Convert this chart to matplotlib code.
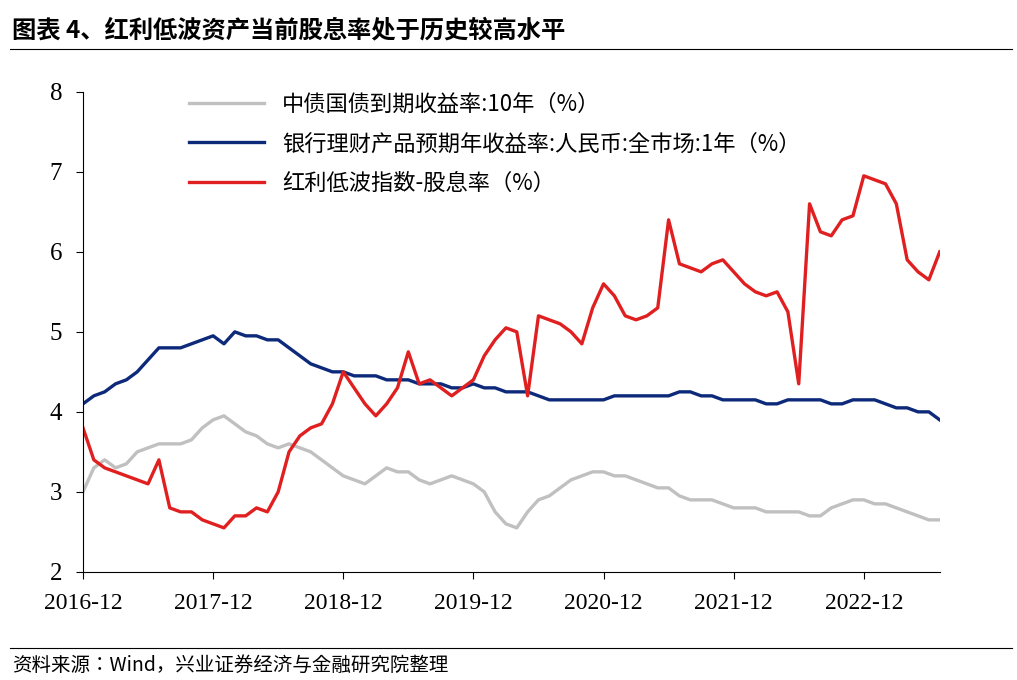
import numpy as np
import matplotlib.pyplot as plt
from matplotlib.lines import Line2D
from matplotlib import font_manager

names = {f.name for f in font_manager.fontManager.ttflist}
CJK = [n for n in ["Noto Sans CJK SC", "Noto Sans CJK JP", "Noto Sans CJK TC", "Noto Sans CJK KR"] if n in names] or ["DejaVu Sans"]
CJK = CJK[0]
NUM = "Liberation Serif"

# monthly points, index 0 = 2016-12
tick_labels = ["2016-12", "2017-12", "2018-12", "2019-12", "2020-12", "2021-12", "2022-12"]

gov_10y = [3.0, 3.3, 3.4, 3.3, 3.35, 3.5, 3.55, 3.6, 3.6, 3.6, 3.65, 3.8, 3.9, 3.95, 3.85, 3.75, 3.7, 3.6, 3.55, 3.6, 3.55, 3.5, 3.4, 3.3, 3.2,
          3.15, 3.1, 3.2, 3.3, 3.25, 3.25, 3.15, 3.1, 3.15, 3.2, 3.15, 3.1, 3.0, 2.75, 2.6, 2.55, 2.75, 2.9, 2.95, 3.05, 3.15, 3.2, 3.25, 3.25,
          3.2, 3.2, 3.15, 3.1, 3.05, 3.05, 2.95, 2.9, 2.9, 2.9, 2.85, 2.8, 2.8, 2.8, 2.75, 2.75, 2.75, 2.75, 2.7, 2.7, 2.8, 2.85, 2.9, 2.9, 2.85,
          2.85, 2.8, 2.75, 2.7, 2.65, 2.65]
wmp_1y = [4.1, 4.2, 4.25, 4.35, 4.4, 4.5, 4.65, 4.8, 4.8, 4.8, 4.85, 4.9, 4.95, 4.85, 5.0, 4.95, 4.95, 4.9, 4.9, 4.8, 4.7, 4.6, 4.55, 4.5, 4.5,
          4.45, 4.45, 4.45, 4.4, 4.4, 4.4, 4.35, 4.35, 4.35, 4.3, 4.3, 4.35, 4.3, 4.3, 4.25, 4.25, 4.25, 4.2, 4.15, 4.15, 4.15, 4.15, 4.15, 4.15,
          4.2, 4.2, 4.2, 4.2, 4.2, 4.2, 4.25, 4.25, 4.2, 4.2, 4.15, 4.15, 4.15, 4.15, 4.1, 4.1, 4.15, 4.15, 4.15, 4.15, 4.1, 4.1, 4.15, 4.15,
          4.15, 4.1, 4.05, 4.05, 4.0, 4.0, 3.9]
div_yield = [3.8, 3.4, 3.3, 3.25, 3.2, 3.15, 3.1, 3.4, 2.8, 2.75, 2.75, 2.65, 2.6, 2.55, 2.7, 2.7, 2.8, 2.75, 3.0, 3.5, 3.7, 3.8, 3.85, 4.1,
             4.5, 4.3, 4.1, 3.95, 4.1, 4.3, 4.75, 4.35, 4.4, 4.3, 4.2, 4.3, 4.4, 4.7, 4.9, 5.05, 5.0, 4.2, 5.2, 5.15, 5.1, 5.0, 4.85, 5.3, 5.6,
             5.45, 5.2, 5.15, 5.2, 5.3, 6.4, 5.85, 5.8, 5.75, 5.85, 5.9, 5.75, 5.6, 5.5, 5.45, 5.5, 5.25, 4.35, 6.6, 6.25, 6.2, 6.4, 6.45, 6.95,
             6.9, 6.85, 6.6, 5.9, 5.75, 5.65, 6.0]

series = [
    ("中债国债到期收益率:10年（%）", gov_10y, "#c0c0c0"),
    ("银行理财产品预期年收益率:人民币:全市场:1年（%）", wmp_1y, "#0d2a7a"),
    ("红利低波指数-股息率（%）", div_yield, "#e02020"),
]

fig = plt.figure(figsize=(10.17, 6.8), dpi=100)
ax = fig.add_axes([0.0816, 0.159, 0.8424, 0.706])
for name, vals, col in series:
    ax.plot(np.arange(len(vals)), vals, color=col, lw=2.4)

ax.set_xlim(0, 79)
ax.set_ylim(2, 8)
ax.set_xticks(np.arange(0, 73, 12))
ax.set_xticklabels(tick_labels, fontfamily=NUM, fontsize=17)
ax.set_yticks(range(2, 9))
ax.set_yticklabels([str(v) for v in range(2, 9)], fontfamily=NUM, fontsize=18)
ax.tick_params(axis="x", direction="out", length=5, pad=10)
ax.tick_params(axis="y", direction="out", length=5, pad=10)
for s in ["top", "right"]:
    ax.spines[s].set_visible(False)

handles = [Line2D([], [], color=c, lw=2.4) for _, _, c in series]
ax.legend(handles, [n for n, _, _ in series], loc="upper left", bbox_to_anchor=(0.1, 1.04),
          frameon=False, prop={"family": CJK, "size": 16}, handlelength=3.4, labelspacing=0.75)

fig.text(0.012, 0.955, "图表 4、红利低波资产当前股息率处于历史较高水平", fontfamily=CJK,
         fontsize=17.5, fontweight="bold", va="center")
fig.add_artist(Line2D([0.01, 0.995], [0.928, 0.928], color="black", lw=0.8))
fig.add_artist(Line2D([0.01, 0.995], [0.047, 0.047], color="black", lw=0.8))
fig.text(0.012, 0.022, "资料来源：Wind，兴业证券经济与金融研究院整理", fontfamily=CJK,
         fontsize=14, va="center")

fig.savefig("out.png")
